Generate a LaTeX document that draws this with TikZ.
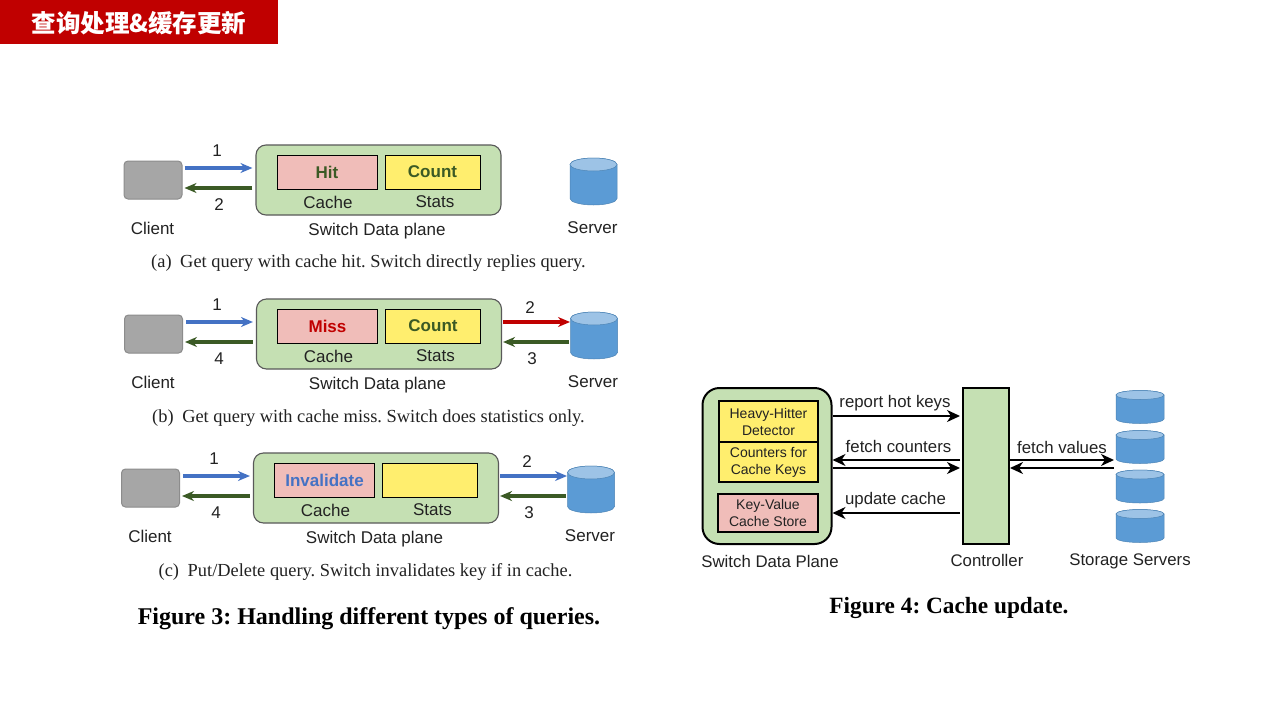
\documentclass[tikz,border=0pt]{standalone}
\usepackage{fontspec}
\setmainfont{Liberation Sans}
\newfontfamily\serifcap{Liberation Serif}
\newfontfamily\cjk{Noto Sans CJK SC}
\usetikzlibrary{arrows.meta}
\definecolor{swgreen}{HTML}{C5E0B3}
\definecolor{pinkbox}{HTML}{F0BDB9}
\definecolor{yelbox}{HTML}{FFEE6E}
\definecolor{qblue}{HTML}{4472C4}
\definecolor{qgreen}{HTML}{3B5A25}
\definecolor{qred}{HTML}{C00000}
\definecolor{cylbody}{HTML}{5B9BD5}
\definecolor{cyltop}{HTML}{9DC3E6}
\definecolor{txt}{HTML}{222222}
\tikzset{
  lab/.style={font=\fontsize{17}{19}\selectfont,text=txt,inner sep=0pt},
  num/.style={font=\fontsize{17}{19}\selectfont,text=txt,inner sep=0pt},
  subcap/.style={font=\serifcap\fontsize{18.4}{21}\selectfont,text=txt,inner sep=0pt},
  figcap/.style={font=\serifcap\bfseries\fontsize{24}{26}\selectfont,text=black,inner sep=0pt},
  client/.style={draw=black!45,fill=black!35,rounded corners=4pt,line width=1pt,minimum width=58pt,minimum height=38pt,inner sep=0pt},
  switchbox/.style={draw=black!65,fill=swgreen,rounded corners=10pt,line width=1.1pt,inner sep=0pt},
  cellbox/.style={draw=black,line width=1pt,inner sep=0pt,font=\bfseries\fontsize{17}{19}\selectfont},
  cylanchor/.style={inner sep=0pt},
  flow/.style={line width=3.2pt,-{Stealth[length=12pt,width=10pt]}},
  fourbox/.style={draw=black,line width=2pt,inner sep=0pt,align=center,font=\fontsize{14}{17}\selectfont,text=txt},
  blk/.style={line width=1.8pt,black,-{Stealth[length=13pt,width=12pt,inset=4pt]}},
  fourlab/.style={lab,font=\fontsize{16.8}{19}\selectfont}
}
\newcommand{\cylat}[6]{%
  \node[cylanchor,minimum width=#4pt*2,minimum height=#5pt*2] (#1) at (#2,#3) {};
  \draw[fill=cylbody,draw=cylbody!85!black,line width=.5pt]
    ([shift={(-#4pt,#5pt-#6pt)}]#1.center) -- ([shift={(-#4pt,-#5pt+#6pt)}]#1.center)
    arc[start angle=180,end angle=360,x radius=#4pt,y radius=#6pt]
    -- ([shift={(#4pt,#5pt-#6pt)}]#1.center)
    arc[start angle=0,end angle=180,x radius=#4pt,y radius=#6pt] -- cycle;
  \draw[fill=cyltop,draw=cylbody!85!black,line width=.5pt]
    ([shift={(0pt,#5pt-#6pt)}]#1.center) ellipse[x radius=#4pt,y radius=#6pt];
}
\newcommand{\panel}[6]{%
  \begin{scope}[shift={(#2,#3)},name prefix=#1-]
    \node[client] (cli) at (153,180) {};
    \node[switchbox,minimum width=245pt,minimum height=70pt] (sw) at (378.5,180) {};
    \node[cellbox,fill=pinkbox,minimum width=100pt,minimum height=34pt,text=#5] (cache) at (327,172) {#4};
    \node[cellbox,fill=yelbox,minimum width=95pt,minimum height=34pt,text=qgreen] (stats) at (432.5,172) {#6};
    \node[lab] (cachelab) at (328,202) {Cache};
    \node[lab] (statslab) at (435,202) {Stats};
    \node[lab] (swlab) at (377,231) {Switch Data plane};
    \node[lab] (clilab) at (152.5,228) {Client};
    \cylat{srv}{593.5}{181.5}{23.5}{23.5}{6.5}
    \node[lab] (srvlab) at (592.5,228) {Server};
  \end{scope}}
\begin{document}
\frenchspacing
\begin{tikzpicture}[x=1pt,y=-1pt]
\useasboundingbox (0,0) rectangle (1280,720);
\fill[white] (0,0) rectangle (1280,720);
\node[fill=qred,minimum width=278pt,minimum height=44pt,inner sep=0pt,anchor=north west] (bar) at (0,0) {};
\node[text=white,inner sep=0pt,font=\cjk\bfseries\fontsize{24.5}{26}\selectfont] (title) at (139,23) {查询处理\&缓存更新};

% panel a
\panel{a}{0}{0}{Hit}{qgreen}{Count}
\draw[flow,qblue] ([yshift=12pt,xshift=2pt]a-cli.east) -- ([yshift=12pt,xshift=-3pt]a-sw.west);
\draw[flow,qgreen] ([yshift=-8pt,xshift=-3pt]a-sw.west) -- ([yshift=-8pt,xshift=2pt]a-cli.east);
\node[num] (a1) at (217,151) {1};
\node[num] (a2) at (219,205) {2};
\node[subcap] (capa) at (368.5,263.5) {(a)\hspace{4pt} Get query with cache hit. Switch directly replies query.};

% panel b
\panel{b}{0.5}{154}{Miss}{qred}{Count}
\draw[flow,qblue] ([yshift=12pt,xshift=3pt]b-cli.east) -- ([yshift=12pt,xshift=-3pt]b-sw.west);
\draw[flow,qgreen] ([yshift=-8pt,xshift=-3pt]b-sw.west) -- ([yshift=-8pt,xshift=2pt]b-cli.east);
\draw[flow,qred] ([yshift=12pt,xshift=1pt]b-sw.east) -- ([xshift=-24pt,yshift=13.5pt]b-srv.center);
\draw[flow,qgreen] ([xshift=-25pt,yshift=-6.5pt]b-srv.center) -- ([yshift=-8pt,xshift=1pt]b-sw.east);
\node[num] (b1) at (217,305) {1};
\node[num] (b4) at (219,359) {4};
\node[num] (b2) at (530,308) {2};
\node[num] (b3) at (532,359) {3};
\node[subcap] (capb) at (368.5,418.5) {(b)\hspace{4pt} Get query with cache miss. Switch does statistics only.};

% panel c
\panel{c}{-2.5}{308}{Invalidate}{qblue}{}
\draw[flow,qblue] ([yshift=12pt,xshift=3pt]c-cli.east) -- ([yshift=12pt,xshift=-3pt]c-sw.west);
\draw[flow,qgreen] ([yshift=-8pt,xshift=-3pt]c-sw.west) -- ([yshift=-8pt,xshift=2pt]c-cli.east);
\draw[flow,qblue] ([yshift=12pt,xshift=1pt]c-sw.east) -- ([xshift=-24pt,yshift=13.5pt]c-srv.center);
\draw[flow,qgreen] ([xshift=-25pt,yshift=-6.5pt]c-srv.center) -- ([yshift=-8pt,xshift=1pt]c-sw.east);
\node[num] (c1) at (214,459) {1};
\node[num] (c4) at (216,513) {4};
\node[num] (c2) at (527,462) {2};
\node[num] (c3) at (529,513) {3};
\node[subcap] (capc) at (365.5,572.5) {(c)\hspace{4pt} Put/Delete query. Switch invalidates key if in cache.};

\node[figcap] (fig3) at (369,618.5) {Figure 3: Handling different types of queries.};

% figure 4
\node[draw=black,line width=2pt,fill=swgreen,rounded corners=17pt,minimum width=129pt,minimum height=156pt,inner sep=0pt] (sdp) at (767,466) {};
\node[fourbox,fill=yelbox,minimum width=99pt,minimum height=41pt] (hh) at (768.5,421.5) {Heavy-Hitter\\Detector};
\node[fourbox,fill=yelbox,minimum width=99pt,minimum height=40pt] (cnt) at (768.5,462) {Counters for\\Cache Keys};
\node[fourbox,fill=pinkbox,minimum width=100pt,minimum height=38pt] (kv) at (768,513) {Key-Value\\Cache Store};
\node[draw=black,line width=2pt,fill=swgreen,minimum width=46pt,minimum height=156pt,inner sep=0pt] (ctl) at (986,466) {};
\cylat{s1}{1140}{407}{24}{16.5}{4.5}
\cylat{s2}{1140}{447}{24}{16.5}{4.5}
\cylat{s3}{1140}{486.5}{24}{16.5}{4.5}
\cylat{s4}{1140}{526}{24}{16.5}{4.5}
\draw[blk] ([yshift=50pt]sdp.east) -- ([yshift=50pt,xshift=-2pt]ctl.west);
\draw[blk] ([yshift=6pt,xshift=-2pt]ctl.west) -- ([yshift=6pt]sdp.east);
\draw[blk] ([yshift=-2pt]sdp.east) -- ([yshift=-2pt,xshift=-2pt]ctl.west);
\draw[blk] ([yshift=-47pt,xshift=-2pt]ctl.west) -- ([yshift=-47pt]sdp.east);
\draw[blk] ([yshift=6pt]ctl.east) -- ([xshift=-26pt,yshift=6pt]s2.center |- ctl.east);
\draw[blk] ([xshift=-26pt,yshift=-2pt]s2.center |- ctl.east) -- ([yshift=-2pt]ctl.east);
\node[fourlab] (l1) at (895,403) {report hot keys};
\node[fourlab] (l2) at (898.5,446) {fetch counters};
\node[fourlab] (l3) at (895.5,500) {update cache};
\node[fourlab] (l4) at (1062,447) {fetch values};
\node[fourlab] (l5) at (770,561) {Switch Data Plane};
\node[fourlab] (l6) at (987,560) {Controller};
\node[fourlab] (l7) at (1130,561) {Storage Servers};
\node[font=\serifcap\bfseries\fontsize{23.3}{26}\selectfont,text=black,inner sep=0pt] (fig4) at (949,607.5) {Figure 4: Cache update.};
\end{tikzpicture}
\end{document}
